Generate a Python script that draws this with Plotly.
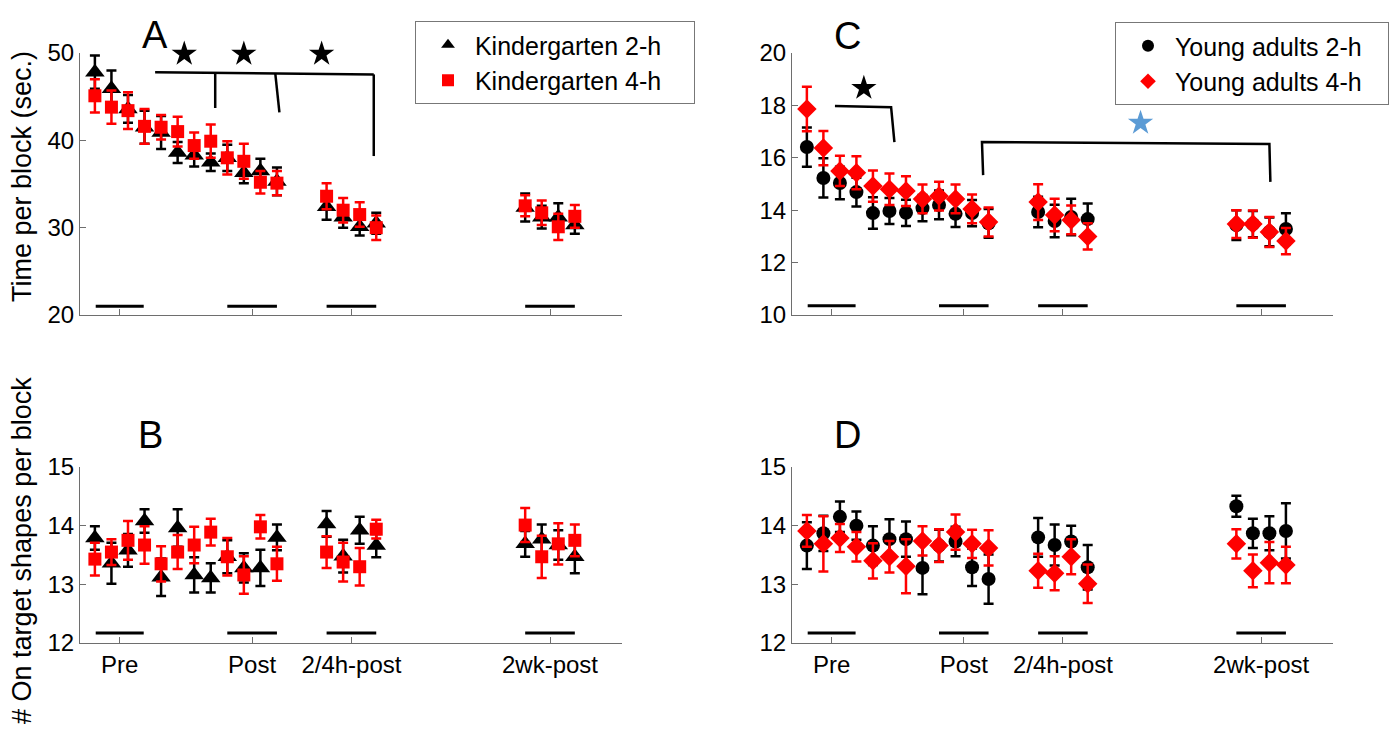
import plotly.graph_objects as go

# page renders the figure with an 8 px body margin, so work in screen pixels minus OFF
OFF = 8
W, H = 1400 - 2 * OFF, 735 - 2 * OFF

# ---------------- data ----------------
block_x = [1, 2, 3, 4, 5, 6, 7, 8, 9, 10, 11, 12, 15, 16, 17, 18, 27, 28, 29, 30]
tick_vals = [2.5, 10.5, 16.5, 28.5]
tick_text = ["Pre", "Post", "2/4h-post", "2wk-post"]
NB = "\u00a0"
legend_kg = ["Kindergarten 2-h", "Kindergarten 4-h"]
legend_ya = ["Young adults 2-h", "Young adults 4-h"]

kg2_time = [47.8, 45.9, 43.6, 41.5, 40.9, 38.6, 38.3, 37.5, 38.0, 36.3, 36.5, 35.3,
            32.4, 31.2, 30.1, 30.5, 32.3, 31.2, 31.2, 30.3]
kg2_time_err = [1.9, 2.1, 1.6, 1.9, 1.9, 1.2, 1.3, 1.0, 1.5, 1.2, 1.4, 1.6,
                1.5, 1.2, 1.0, 1.2, 1.6, 1.3, 1.6, 1.0]
kg4_time = [45.1, 43.8, 43.4, 41.6, 41.5, 41.0, 39.4, 39.9, 38.0, 37.6, 35.2, 35.1,
            33.6, 32.0, 31.5, 30.0, 32.5, 31.7, 30.1, 31.3]
kg4_time_err = [1.9, 1.9, 2.1, 2.0, 1.4, 1.7, 1.5, 1.9, 1.9, 2.0, 1.3, 1.4,
                1.5, 1.4, 1.4, 1.4, 1.2, 1.4, 1.5, 1.3]

kg2_shapes = [13.79, 13.36, 13.58, 14.08, 13.12, 13.96, 13.16, 13.11, 13.47, 13.28, 13.28, 13.80,
              14.03, 13.48, 13.92, 13.66, 13.69, 13.77, 13.67, 13.47]
kg2_shapes_err = [0.20, 0.35, 0.28, 0.20, 0.32, 0.32, 0.30, 0.25, 0.28, 0.25, 0.31, 0.22,
                  0.22, 0.28, 0.23, 0.20, 0.22, 0.25, 0.25, 0.28]
kg4_shapes = [13.43, 13.55, 13.75, 13.67, 13.35, 13.55, 13.67, 13.89, 13.47, 13.16, 13.98, 13.35,
              13.55, 13.38, 13.30, 13.94, 14.01, 13.47, 13.69, 13.75]
kg4_shapes_err = [0.28, 0.22, 0.33, 0.32, 0.30, 0.29, 0.31, 0.23, 0.32, 0.32, 0.20, 0.29,
                  0.27, 0.33, 0.32, 0.16, 0.29, 0.36, 0.35, 0.27]

ya2_time = [16.41, 15.23, 15.04, 14.69, 13.89, 13.97, 13.90, 14.08, 14.20, 13.86, 13.89, 13.50,
            13.93, 13.59, 13.74, 13.66, 13.43, 13.47, 13.17, 13.28]
ya2_time_err = [0.75, 0.75, 0.62, 0.55, 0.60, 0.50, 0.50, 0.50, 0.55, 0.50, 0.50, 0.55,
                0.58, 0.62, 0.70, 0.60, 0.57, 0.50, 0.55, 0.60]
ya4_time = [17.86, 16.37, 15.50, 15.43, 14.92, 14.80, 14.73, 14.43, 14.54, 14.43, 14.05, 13.55,
            14.31, 13.82, 13.63, 13.00, 13.47, 13.47, 13.17, 12.82]
ya4_time_err = [0.85, 0.65, 0.58, 0.63, 0.60, 0.60, 0.57, 0.55, 0.55, 0.55, 0.55, 0.55,
                0.68, 0.62, 0.55, 0.50, 0.53, 0.52, 0.57, 0.50]

ya2_shapes = [13.66, 13.87, 14.15, 14.00, 13.66, 13.77, 13.77, 13.28, 13.66, 13.73, 13.29, 13.09,
              13.80, 13.67, 13.73, 13.29, 14.33, 13.87, 13.87, 13.91]
ya2_shapes_err = [0.40, 0.30, 0.26, 0.24, 0.33, 0.34, 0.30, 0.45, 0.27, 0.25, 0.32, 0.42,
                  0.33, 0.35, 0.27, 0.38, 0.18, 0.25, 0.29, 0.47]
ya4_shapes = [13.91, 13.69, 13.79, 13.64, 13.40, 13.47, 13.31, 13.74, 13.66, 13.89, 13.69, 13.62,
              13.23, 13.19, 13.47, 13.01, 13.69, 13.23, 13.37, 13.33]
ya4_shapes_err = [0.27, 0.47, 0.24, 0.25, 0.30, 0.27, 0.46, 0.25, 0.28, 0.30, 0.24, 0.30,
                  0.29, 0.29, 0.30, 0.33, 0.25, 0.28, 0.35, 0.31]

# group underline bars (start, end) in block units
group_bars = [(1.05, 3.95), (9.0, 12.0), (15.0, 18.0), (27.0, 30.0)]
bar_level_time_A = 21.0
bar_level_time_C = 10.35
bar_level_shapes = 12.17

# significance brackets (annotation geometry)
bracketA_x = [4.64, 17.85]
bracketA_y = [47.8, 47.55]
dropsA = [((8.27, 47.7), (8.27, 43.7)), ((11.9, 47.65), (12.15, 43.2)), ((17.85, 47.55), (17.85, 38.2))]
starsA_x = [6.4, 10.0, 14.7]
starsA_y = [49.9, 49.9, 49.9]

bracketC1_x = [2.7, 6.1, 6.3]
bracketC1_y = [17.98, 17.93, 16.6]
starC1 = (4.45, 18.66)
bracketC2_x = [11.67, 11.6, 29.0, 29.06]
bracketC2_y = [15.34, 16.6, 16.53, 15.08]
starC2 = (21.2, 17.33)

RED = "#FF0000"
BLACK = "#000000"
BLUE = "#5B9BD5"
AXC = "#6E6E6E"
FONT = "Liberation Sans, Arial, sans-serif"

fig = go.Figure()


def series(x, y, err, color, symbol, size, name, xa, ya, legend=None, show=False):
    fig.add_trace(go.Scatter(
        x=x, y=y, mode="markers", name=name,
        marker=dict(color=color, symbol=symbol, size=size, line=dict(width=0)),
        error_y=dict(type="data", array=err, visible=True, color=color, thickness=2.5, width=5),
        xaxis=xa, yaxis=ya, showlegend=show, legend=legend, hoverinfo="x+y", cliponaxis=False))


def line(xs, ys, xa, ya, color=BLACK, width=2.5):
    fig.add_trace(go.Scatter(x=xs, y=ys, mode="lines", line=dict(color=color, width=width),
                             xaxis=xa, yaxis=ya, showlegend=False, hoverinfo="skip", cliponaxis=False))


kg_names = [NB + s + NB * 4 for s in legend_kg]
ya_names = [NB + s + NB * 3 for s in legend_ya]

# Panel A
series(block_x, kg2_time, kg2_time_err, BLACK, "triangle-up", 17, kg_names[0], "x", "y", "legend", True)
series(block_x, kg4_time, kg4_time_err, RED, "square", 13, kg_names[1], "x", "y", "legend", True)
# Panel B
series(block_x, kg2_shapes, kg2_shapes_err, BLACK, "triangle-up", 17, legend_kg[0], "x2", "y2")
series(block_x, kg4_shapes, kg4_shapes_err, RED, "square", 13, legend_kg[1], "x2", "y2")
# Panel C
series(block_x, ya2_time, ya2_time_err, BLACK, "circle", 14, ya_names[0], "x3", "y3", "legend2", True)
series(block_x, ya4_time, ya4_time_err, RED, "diamond", 15, ya_names[1], "x3", "y3", "legend2", True)
# Panel D
series(block_x, ya2_shapes, ya2_shapes_err, BLACK, "circle", 14, legend_ya[0], "x4", "y4")
series(block_x, ya4_shapes, ya4_shapes_err, RED, "diamond", 15, legend_ya[1], "x4", "y4")

# group bars
for (a, b) in group_bars:
    line([a, b], [bar_level_time_A, bar_level_time_A], "x", "y", width=3)
    line([a, b], [bar_level_shapes, bar_level_shapes], "x2", "y2", width=3)
    line([a, b], [bar_level_time_C, bar_level_time_C], "x3", "y3", width=3)
    line([a, b], [bar_level_shapes, bar_level_shapes], "x4", "y4", width=3)

# brackets A
line(bracketA_x, bracketA_y, "x", "y")
for (p, q) in dropsA:
    line([p[0], q[0]], [p[1], q[1]], "x", "y")
fig.add_trace(go.Scatter(x=starsA_x, y=starsA_y, mode="markers",
                         marker=dict(symbol="star", size=19, color=BLACK),
                         xaxis="x", yaxis="y", showlegend=False, hoverinfo="skip", cliponaxis=False))
# brackets C
line(bracketC1_x, bracketC1_y, "x3", "y3")
line(bracketC2_x, bracketC2_y, "x3", "y3")
fig.add_trace(go.Scatter(x=[starC1[0]], y=[starC1[1]], mode="markers",
                         marker=dict(symbol="star", size=19, color=BLACK),
                         xaxis="x3", yaxis="y3", showlegend=False, hoverinfo="skip", cliponaxis=False))
fig.add_trace(go.Scatter(x=[starC2[0]], y=[starC2[1]], mode="markers",
                         marker=dict(symbol="star", size=19, color=BLUE),
                         xaxis="x3", yaxis="y3", showlegend=False, hoverinfo="skip", cliponaxis=False))


def fx(X):
    return (X - OFF) / W


def fy(Y):
    return 1 - (Y - OFF) / H


def px_x(a, b):
    return [fx(a), fx(b)]


def px_y(top, bottom):
    return [fy(bottom), fy(top)]


xr = [0.1, 32.85]
common_x = dict(range=xr, showgrid=False, zeroline=False, showline=True, linecolor=AXC, linewidth=1,
                ticks="inside", ticklen=6, tickcolor=AXC, tickvals=tick_vals, ticktext=tick_text,
                tickfont=dict(size=24, color="black", family=FONT), fixedrange=True, automargin=False)
common_y = dict(showgrid=False, zeroline=False, showline=True, linecolor=AXC, linewidth=1,
                ticks="inside", ticklen=6, tickcolor=AXC,
                tickfont=dict(size=24, color="black", family=FONT), fixedrange=True, automargin=False)

legend_common = dict(xanchor="left", yanchor="top", bgcolor="white", bordercolor="#777777",
                     borderwidth=1, font=dict(size=25, family=FONT, color="black"),
                     itemsizing="constant", tracegroupgap=0, indentation=12)

fig.update_layout(
    width=W, height=H, margin=dict(l=0, r=0, t=0, b=0, pad=0, autoexpand=False),
    paper_bgcolor="white", plot_bgcolor="white",
    font=dict(family=FONT, color="black"),
    xaxis=dict(common_x, domain=px_x(80, 622), anchor="y", showticklabels=False),
    yaxis=dict(common_y, domain=px_y(53, 315), anchor="x", range=[20, 50], tickvals=[20, 30, 40, 50]),
    xaxis2=dict(common_x, domain=px_x(80, 622), anchor="y2", showticklabels=True),
    yaxis2=dict(common_y, domain=px_y(467, 643), anchor="x2", range=[12, 15], tickvals=[12, 13, 14, 15]),
    xaxis3=dict(common_x, domain=px_x(792, 1333), anchor="y3", showticklabels=False),
    yaxis3=dict(common_y, domain=px_y(53, 315), anchor="x3", range=[10, 20], tickvals=[10, 12, 14, 16, 18, 20]),
    xaxis4=dict(common_x, domain=px_x(792, 1333), anchor="y4", showticklabels=True),
    yaxis4=dict(common_y, domain=px_y(467, 643), anchor="x4", range=[12, 15], tickvals=[12, 13, 14, 15]),
    legend=dict(legend_common, x=fx(415), y=fy(21)),
    legend2=dict(legend_common, x=fx(1115), y=fy(22)),
    showlegend=True,
)

letters = [("A", 155, 35), ("B", 150, 435), ("C", 847, 36), ("D", 847, 435)]
for t, lx, ly in letters:
    fig.add_annotation(text=t, x=fx(lx), y=fy(ly), xref="paper", yref="paper",
                       showarrow=False, font=dict(size=38, family=FONT, color="black"),
                       xanchor="center", yanchor="middle")

fig.add_annotation(text="Time per block (sec.)", x=fx(22), y=fy(177), xref="paper", yref="paper",
                   showarrow=False, textangle=-90, font=dict(size=27, family=FONT, color="black"),
                   xanchor="center", yanchor="middle")
fig.add_annotation(text="# On target shapes per block", x=fx(22), y=fy(551), xref="paper", yref="paper",
                   showarrow=False, textangle=-90, font=dict(size=27, family=FONT, color="black"),
                   xanchor="center", yanchor="middle")

fig.write_html("out.html")
